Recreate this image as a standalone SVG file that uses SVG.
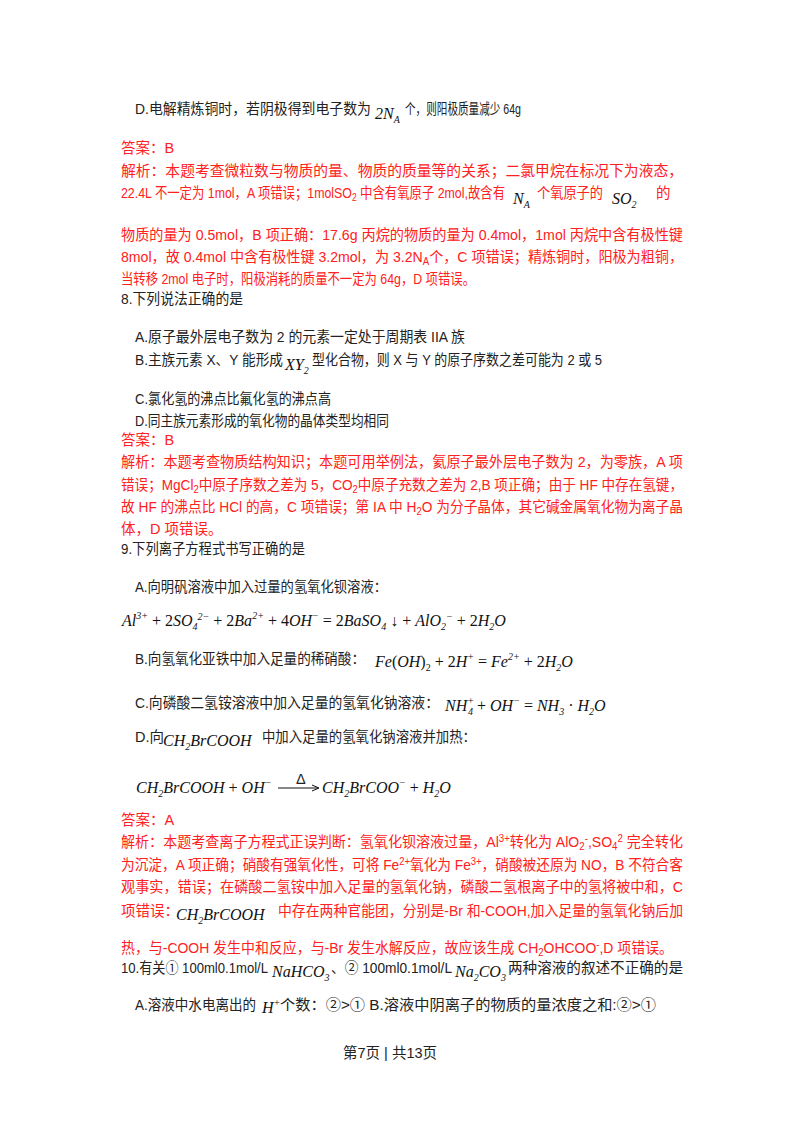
<svg xmlns="http://www.w3.org/2000/svg" width="800" height="1132" viewBox="0 0 800 1132">
<style>
text{font-family:"Liberation Sans","Noto Sans CJK SC",sans-serif;font-size:14.5px;fill:#222}
.r{fill:#ff2020}
.m{font-family:"Liberation Serif",serif;font-style:italic;font-size:16px;fill:#111}
.s{font-size:10px}
</style>
<rect width="800" height="1132" fill="#fff"/>
<g id="q7d">
<text x="135" y="114" textLength="236" lengthAdjust="spacingAndGlyphs">D.电解精炼铜时，若阴极得到电子数为</text>
<text class="m" x="375" y="119" font-style="normal">2<tspan font-style="italic">N</tspan><tspan class="s" dy="4">A</tspan></text>
<text x="405" y="114" textLength="116" lengthAdjust="spacingAndGlyphs">个，则阳极质量减少 64g</text>
</g>
<g id="a7">
<text class="r" x="121" y="153">答案：B</text>
<text class="r" x="121" y="176" textLength="562" lengthAdjust="spacingAndGlyphs">解析：本题考查微粒数与物质的量、物质的质量等的关系；二氯甲烷在标况下为液态，</text>
<text class="r" x="121" y="198" textLength="384" lengthAdjust="spacingAndGlyphs">22.4L 不一定为 1mol，A 项错误；1molSO<tspan class="s" dy="3">2</tspan><tspan dy="-3"> 中含有氧原子 2mol,故含有</tspan></text>
<text class="m" x="513" y="204">N<tspan class="s" dy="4">A</tspan></text>
<text class="r" x="537" y="198" textLength="66" lengthAdjust="spacingAndGlyphs">个氧原子的</text>
<text class="m" x="612" y="204">SO<tspan class="s" dy="4">2</tspan></text>
<text class="r" x="656" y="198">的</text>
<text class="r" x="121" y="240" textLength="562" lengthAdjust="spacingAndGlyphs">物质的量为 0.5mol，B 项正确：17.6g 丙烷的物质的量为 0.4mol，1mol 丙烷中含有极性键</text>
<text class="r" x="121" y="262" textLength="562" lengthAdjust="spacingAndGlyphs">8mol，故 0.4mol 中含有极性键 3.2mol，为 3.2N<tspan class="s" dy="3">A</tspan><tspan dy="-3">个，C 项错误；精炼铜时，阳极为粗铜，</tspan></text>
<text class="r" x="121" y="284" textLength="354" lengthAdjust="spacingAndGlyphs">当转移 2mol 电子时，阳极消耗的质量不一定为 64g，D 项错误。</text>
</g>
<g id="q8">
<text x="121" y="304" textLength="122" lengthAdjust="spacingAndGlyphs">8.下列说法正确的是</text>
<text x="135" y="342" textLength="330" lengthAdjust="spacingAndGlyphs">A.原子最外层电子数为 2 的元素一定处于周期表 IIA 族</text>
<text x="135" y="365" textLength="148" lengthAdjust="spacingAndGlyphs">B.主族元素 X、Y 能形成</text>
<text class="m" x="285" y="370" font-style="normal">XY<tspan class="s" dy="4">2</tspan></text>
<text x="312" y="365" textLength="290" lengthAdjust="spacingAndGlyphs">型化合物，则 X 与 Y 的原子序数之差可能为 2 或 5</text>
<text x="135" y="404" textLength="196" lengthAdjust="spacingAndGlyphs">C.氯化氢的沸点比氟化氢的沸点高</text>
<text x="135" y="426" textLength="254" lengthAdjust="spacingAndGlyphs">D.同主族元素形成的氧化物的晶体类型均相同</text>
</g>
<g id="a8">
<text class="r" x="121" y="445">答案：B</text>
<text class="r" x="121" y="467" textLength="562" lengthAdjust="spacingAndGlyphs">解析：本题考查物质结构知识；本题可用举例法，氦原子最外层电子数为 2，为零族，A 项</text>
<text class="r" x="121" y="490" textLength="562" lengthAdjust="spacingAndGlyphs">错误；MgCl<tspan class="s" dy="3">2</tspan><tspan dy="-3">中原子序数之差为 5，CO</tspan><tspan class="s" dy="3">2</tspan><tspan dy="-3">中原子充数之差为 2,B 项正确；由于 HF 中存在氢键，</tspan></text>
<text class="r" x="121" y="512" textLength="562" lengthAdjust="spacingAndGlyphs">故 HF 的沸点比 HCl 的高，C 项错误；第 IA 中 H<tspan class="s" dy="3">2</tspan><tspan dy="-3">O 为分子晶体，其它碱金属氧化物为离子晶</tspan></text>
<text class="r" x="121" y="534">体，D 项错误。</text>
</g>
<g id="q9">
<text x="121" y="554" textLength="184" lengthAdjust="spacingAndGlyphs">9.下列离子方程式书写正确的是</text>
<text x="135" y="592" textLength="252" lengthAdjust="spacingAndGlyphs">A.向明矾溶液中加入过量的氢氧化钡溶液：</text>
<text class="m" x="122" y="626">Al<tspan class="s" dy="-7">3+</tspan><tspan dy="7" font-style="normal"> + 2</tspan>SO<tspan class="s" dy="4">4</tspan><tspan class="s" dy="-10">2−</tspan><tspan dy="6" font-style="normal"> + 2</tspan>Ba<tspan class="s" dy="-7">2+</tspan><tspan dy="7" font-style="normal"> + 4</tspan>OH<tspan class="s" dy="-7">−</tspan><tspan dy="7" font-style="normal"> = 2</tspan>BaSO<tspan class="s" dy="4">4</tspan><tspan dy="-4" font-style="normal"> ↓ + </tspan>AlO<tspan class="s" dy="4">2</tspan><tspan class="s" dy="-10">−</tspan><tspan dy="6" font-style="normal"> + 2</tspan>H<tspan class="s" dy="4">2</tspan><tspan dy="-4">O</tspan></text>
<text x="135" y="664" textLength="230" lengthAdjust="spacingAndGlyphs">B.向氢氧化亚铁中加入足量的稀硝酸：</text>
<text class="m" x="375" y="667">Fe<tspan font-style="normal">(</tspan>OH<tspan font-style="normal">)</tspan><tspan class="s" dy="4" font-style="normal">2</tspan><tspan dy="-4" font-style="normal"> + 2</tspan>H<tspan class="s" dy="-7">+</tspan><tspan dy="7" font-style="normal"> = </tspan>Fe<tspan class="s" dy="-7">2+</tspan><tspan dy="7" font-style="normal"> + 2</tspan>H<tspan class="s" dy="4">2</tspan><tspan dy="-4">O</tspan></text>
<text x="135" y="708" textLength="304" lengthAdjust="spacingAndGlyphs">C.向磷酸二氢铵溶液中加入足量的氢氧化钠溶液：</text>
<text class="m" x="445" y="711">NH<tspan class="s" dy="-7">+</tspan><tspan class="s" dx="-6" dy="11">4</tspan><tspan dy="-4" font-style="normal"> + </tspan>OH<tspan class="s" dy="-7">−</tspan><tspan dy="7" font-style="normal"> = </tspan>NH<tspan class="s" dy="4">3</tspan><tspan dy="-4" font-style="normal"> · </tspan>H<tspan class="s" dy="4">2</tspan><tspan dy="-4">O</tspan></text>
<text x="135" y="742">D.向</text>
<text class="m" x="163" y="746">CH<tspan class="s" dy="4">2</tspan><tspan dy="-4">BrCOOH</tspan></text>
<text x="262" y="742" textLength="214" lengthAdjust="spacingAndGlyphs">中加入足量的氢氧化钠溶液并加热：</text>
<text class="m" x="136" y="793">CH<tspan class="s" dy="4">2</tspan><tspan dy="-4">BrCOOH</tspan><tspan font-style="normal"> + </tspan>OH<tspan class="s" dy="-7">−</tspan></text>
<text x="296" y="784" font-size="8" fill="#111">Δ</text>
<line x1="278" y1="788" x2="318" y2="788" stroke="#111" stroke-width="1"/>
<path d="M312,785 L319,788 L312,791" fill="none" stroke="#111" stroke-width="1"/>
<text class="m" x="322" y="793">CH<tspan class="s" dy="4">2</tspan><tspan dy="-4">BrCOO</tspan><tspan class="s" dy="-7">−</tspan><tspan dy="7" font-style="normal"> + </tspan>H<tspan class="s" dy="4">2</tspan><tspan dy="-4">O</tspan></text>
</g>
<g id="a9">
<text class="r" x="121" y="825">答案：A</text>
<text class="r" x="121" y="847" textLength="562" lengthAdjust="spacingAndGlyphs">解析：本题考查离子方程式正误判断：氢氧化钡溶液过量，Al<tspan class="s" dy="-5">3+</tspan><tspan dy="5">转化为 AlO</tspan><tspan class="s" dy="3">2</tspan><tspan class="s" dy="-8">-</tspan><tspan dy="5">,SO</tspan><tspan class="s" dy="3">4</tspan><tspan class="s" dy="-8">2</tspan><tspan dy="5"> 完全转化</tspan></text>
<text class="r" x="121" y="870" textLength="562" lengthAdjust="spacingAndGlyphs">为沉淀，A 项正确；硝酸有强氧化性，可将 Fe<tspan class="s" dy="-5">2+</tspan><tspan dy="5">氧化为 Fe</tspan><tspan class="s" dy="-5">3+</tspan><tspan dy="5">，硝酸被还原为 NO，B 不符合客</tspan></text>
<text class="r" x="121" y="892" textLength="562" lengthAdjust="spacingAndGlyphs">观事实，错误；在磷酸二氢铵中加入足量的氢氧化钠，磷酸二氢根离子中的氢将被中和，C</text>
<text class="r" x="121" y="916">项错误：</text>
<text class="m" x="176" y="920">CH<tspan class="s" dy="4">2</tspan><tspan dy="-4">BrCOOH</tspan></text>
<text class="r" x="278" y="916" textLength="405" lengthAdjust="spacingAndGlyphs">中存在两种官能团，分别是-Br 和-COOH,加入足量的氢氧化钠后加</text>
<text class="r" x="121" y="953" textLength="552" lengthAdjust="spacingAndGlyphs">热，与-COOH 发生中和反应，与-Br 发生水解反应，故应该生成 CH<tspan class="s" dy="3">2</tspan><tspan dy="-3">OHCOO</tspan><tspan class="s" dy="-5">-</tspan><tspan dy="5">,D 项错误。</tspan></text>
</g>
<g id="q10">
<text x="121" y="973" textLength="147" lengthAdjust="spacingAndGlyphs">10.有关① 100ml0.1mol/L</text>
<text class="m" x="272" y="977">NaHCO<tspan class="s" dy="4">3</tspan></text>
<text x="331" y="973" textLength="121" lengthAdjust="spacingAndGlyphs">、② 100ml0.1mol/L</text>
<text class="m" x="455" y="977">Na<tspan class="s" dy="4">2</tspan><tspan dy="-4">CO</tspan><tspan class="s" dy="4">3</tspan></text>
<text x="508" y="973" textLength="175" lengthAdjust="spacingAndGlyphs">两种溶液的叙述不正确的是</text>
<text x="135" y="1010" textLength="121" lengthAdjust="spacingAndGlyphs">A.溶液中水电离出的</text>
<text class="m" x="262" y="1013">H<tspan class="s" dy="-7">+</tspan></text>
<text x="280" y="1010" textLength="376" lengthAdjust="spacingAndGlyphs">个数：②&gt;① B.溶液中阴离子的物质的量浓度之和:②&gt;①</text>
</g>
<g id="footer">
<text x="343" y="1058" font-size="13">第7页 | 共13页</text>
</g>
</svg>
